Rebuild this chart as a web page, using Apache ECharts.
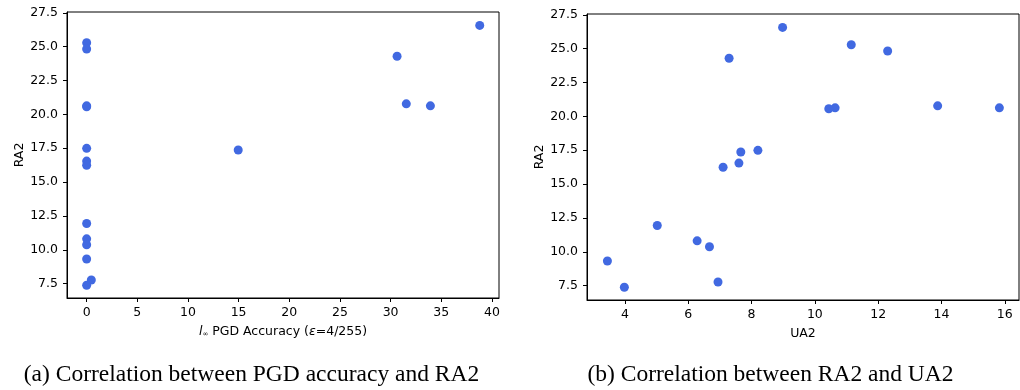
<!DOCTYPE html>
<html>
<head>
<meta charset="utf-8">
<script src="https://cdn.jsdelivr.net/npm/echarts@6/dist/echarts.min.js"></script>
<style>
html,body{margin:0;padding:0;background:#fff;}
#chart{width:1020px;height:390px;}
</style>
</head>
<body>
<div id="chart"></div>
<script>
// 每个模型的三个指标
var ra2 = [26.57, 25.29, 24.83, 24.29, 20.78, 20.63, 20.63, 20.56, 17.49, 17.37, 16.55, 16.24, 11.94, 10.81, 10.37, 9.32, 7.77, 7.38];
var pgdAcc = [38.8, 0, 0, 30.64, 31.55, 33.93, 0, 0, 0, 14.96, 0, 0, 0, 0, 0, 0, 0.46, 0];
var ua2 = [8.98, 11.15, 12.30, 7.29, 13.88, 15.83, 10.64, 10.44, 8.20, 7.66, 7.60, 7.10, 5.02, 6.28, 6.67, 3.445, 6.94, 3.98];

// 刻度
var raTicks = [7.5, 10, 12.5, 15, 17.5, 20, 22.5, 25, 27.5];
var pgdTicks = [0, 5, 10, 15, 20, 25, 30, 35, 40];
var uaTicks = [4, 6, 8, 10, 12, 14, 16];

var captions = ['(a) Correlation between PGD accuracy and RA2', '(b) Correlation between RA2 and UA2'];

var dataA = [], dataB = [];
for (var i = 0; i < ra2.length; i++) {
	dataA.push([pgdAcc[i], ra2[i]]);
	dataB.push([ua2[i], ra2[i]]);
}

var font = 'DejaVu Sans';
var lbl = {color:'#000', fontFamily:font, fontSize:12.5};

function xAx(idx, min, max, ticks, name) {
	return {
		type:'value', gridIndex:idx, min:min, max:max,
		splitLine:{show:false},
		axisLine:{show:true, onZero:false, lineStyle:{color:'#000', width:1}},
		axisTick:{show:true, length:4, customValues:ticks, lineStyle:{color:'#000'}},
		axisLabel:Object.assign({customValues:ticks, margin:8}, lbl),
		name:name, nameLocation:'middle', nameGap:27,
		nameTextStyle:{color:'#000', fontFamily:font, fontSize:12.5,
			rich:{
				i:{fontStyle:'italic', fontFamily:font, fontSize:12.5, color:'#000'},
				s:{fontFamily:font, fontSize:7, color:'#000', padding:[5,0,0,0]}
			}}
	};
}
function yAx(idx) {
	return {
		type:'value', gridIndex:idx, min:6.44, max:27.56,
		splitLine:{show:false},
		axisLine:{show:true, onZero:false, lineStyle:{color:'#000', width:1}},
		axisTick:{show:true, length:4, customValues:raTicks, lineStyle:{color:'#000'}},
		axisLabel:Object.assign({customValues:raTicks, margin:9, formatter:function(v){return v.toFixed(1);}}, lbl),
		name:'RA2', nameLocation:'middle', nameGap:40,
		nameTextStyle:{color:'#000', fontFamily:font, fontSize:12.5}
	};
}

var myChart = echarts.init(document.getElementById('chart'));
var option = {
	backgroundColor:'#fff',
	animation:false,
	grid:[
		{left:67, top:12, width:432, height:286, show:true, borderColor:'#000', borderWidth:1},
		{left:587, top:14, width:432, height:286, show:true, borderColor:'#000', borderWidth:1}
	],
	xAxis:[
		xAx(0, -1.94, 40.7, pgdTicks, '{i|l}{s|∞} PGD Accuracy ({i|ε}=4/255)'),
		xAx(1, 2.8, 16.45, uaTicks, 'UA2')
	],
	yAxis:[yAx(0), yAx(1)],
	series:[
		{type:'scatter', xAxisIndex:0, yAxisIndex:0, data:dataA, symbolSize:9, itemStyle:{color:'#4169e1', opacity:1}},
		{type:'scatter', xAxisIndex:1, yAxisIndex:1, data:dataB, symbolSize:9, itemStyle:{color:'#4169e1', opacity:1}}
	],
	graphic:[
		{type:'text', x:251.5, y:375, style:{text:captions[0], fill:'#000', font:'23.5px "Liberation Serif"', textAlign:'center', textVerticalAlign:'middle'}},
		{type:'text', x:770.5, y:375, style:{text:captions[1], fill:'#000', font:'23.5px "Liberation Serif"', textAlign:'center', textVerticalAlign:'middle'}}
	]
};
myChart.setOption(option);
</script>
</body>
</html>
